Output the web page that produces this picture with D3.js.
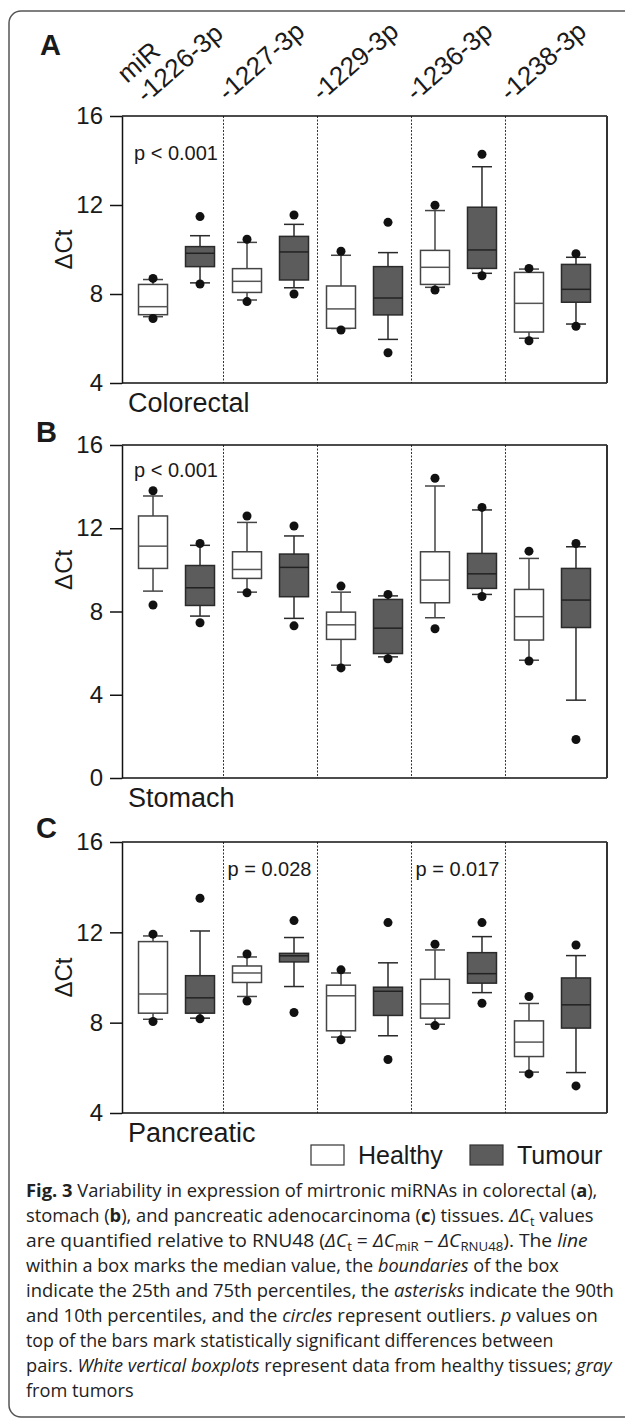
<!DOCTYPE html>
<html>
<head>
<meta charset="utf-8">
<script src="https://cdn.jsdelivr.net/npm/d3@7"></script>
<style>
  body { margin: 0; background: #fff; }
  svg text { font-family: "Liberation Sans", Arial, sans-serif; fill: #1a1a1a; }
  .caption text { font-family: "Open Sans", sans-serif; fill: #222; }
</style>
</head>
<body>
<svg id="fig" width="625" height="1420"></svg>
<script>
// miRNA labels, one pair (healthy, tumour) per miRNA
var mirnaLabels = ["-1226-3p", "-1227-3p", "-1229-3p", "-1236-3p", "-1238-3p"];
var tissueTypes = ["Healthy", "Tumour"];

// box stats per box: [lower whisker, q1, median, q3, upper whisker], order H,T,H,T...
var colorectalStats = [
	[6.98, 7.07, 7.43, 8.43, 8.65], [8.5, 9.23, 9.83, 10.13, 10.62],
	[7.73, 8.07, 8.57, 9.14, 10.32], [8.28, 8.63, 9.89, 10.59, 11.13],
	[6.45, 6.46, 7.33, 8.36, 9.74], [5.96, 7.06, 7.82, 9.23, 9.86],
	[8.3, 8.43, 9.2, 9.96, 11.75], [8.93, 9.15, 9.98, 11.9, 13.72],
	[6.01, 6.29, 7.58, 8.97, 9.12], [6.65, 7.63, 8.21, 9.33, 9.65]
];
var colorectalDots = [
	[8.7, 6.9], [11.48, 8.45], [10.46, 7.66], [11.55, 8.0], [9.92, 6.38],
	[11.22, 5.36], [11.99, 8.18], [14.28, 8.82], [9.15, 5.9], [9.81, 6.55]
];

var stomachStats = [
	[8.98, 10.07, 11.14, 12.59, 13.55], [7.78, 8.29, 9.14, 10.21, 11.18],
	[8.93, 9.59, 10.02, 10.87, 12.28], [7.67, 8.71, 10.12, 10.76, 11.63],
	[5.42, 6.66, 7.36, 7.97, 8.93], [5.82, 5.98, 7.2, 8.58, 8.75],
	[7.7, 8.42, 9.51, 10.87, 14.03], [8.82, 9.11, 9.81, 10.79, 12.88],
	[5.66, 6.63, 7.75, 9.06, 10.55], [3.74, 7.23, 8.55, 10.07, 11.11]
];
var stomachDots = [
	[13.8, 8.31], [11.27, 7.46], [12.59, 8.9], [12.11, 7.31], [9.22, 5.29],
	[8.82, 5.73], [14.4, 7.17], [13.0, 8.72], [10.9, 5.62], [11.27, 1.85]
];

var pancreaticStats = [
	[8.15, 8.42, 9.27, 11.59, 11.84], [8.2, 8.42, 9.1, 10.08, 12.06],
	[9.16, 9.78, 10.2, 10.51, 10.91], [9.6, 10.69, 10.96, 11.07, 11.77],
	[7.36, 7.64, 9.19, 9.66, 10.2], [7.42, 8.32, 9.39, 9.57, 10.65],
	[7.93, 8.2, 8.83, 9.92, 11.22], [9.33, 9.75, 10.17, 11.1, 11.81],
	[5.81, 6.5, 7.14, 8.08, 8.85], [5.79, 7.76, 8.79, 9.98, 10.97]
];
var pancreaticDots = [
	[11.92, 8.05], [13.51, 8.17], [11.04, 8.96], [12.52, 8.45], [10.34, 7.24],
	[12.43, 6.37], [11.47, 7.87], [12.43, 8.86], [9.16, 5.73], [11.44, 5.2]
];

// p values: [miRNA index, text]
var colorectalP = [[0, "p < 0.001"]];
var stomachP = [[0, "p < 0.001"]];
var pancreaticP = [[1, "p = 0.028"], [3, "p = 0.017"]];

var yTicksA = [4, 8, 12, 16];
var yTicksB = [0, 4, 8, 12, 16];

var svg = d3.select("#fig");

// outer frame
svg.append("rect")
	.attr("x", 9).attr("y", 11)
	.attr("width", 640).attr("height", 1406)
	.attr("rx", 12)
	.attr("fill", "none")
	.attr("stroke", "#555")
	.attr("stroke-width", 1.5);

var boxKeys = [];
mirnaLabels.forEach(function(m) {
	tissueTypes.forEach(function(t) { boxKeys.push(m + "|" + t); });
});

var left = 122, right = 607;
var x = d3.scalePoint().domain(boxKeys).range([left, right]).padding(0.66);
var boxW = 29, capW = 20;

var fillColor = { "Healthy": "#fff", "Tumour": "#5c5c5c" };
var strokeColor = { "Healthy": "#444", "Tumour": "#2a2a2a" };

function dividerX(i) {
	return (x(boxKeys[2 * i - 1]) + x(boxKeys[2 * i])) / 2;
}

function drawPanel(opt) {
	var y = d3.scaleLinear().domain(opt.domain).range([opt.bottom, opt.top]);
	var g = svg.append("g").attr("class", "panel");

	// dotted dividers between miRNA pairs
	for (var i = 1; i < mirnaLabels.length; i++) {
		g.append("line")
			.attr("x1", dividerX(i)).attr("x2", dividerX(i))
			.attr("y1", opt.top).attr("y2", opt.bottom)
			.attr("stroke", "#333")
			.attr("stroke-width", 1)
			.attr("stroke-dasharray", "2,1.5");
	}

	// frame lines
	g.append("line").attr("x1", left).attr("x2", right).attr("y1", opt.top).attr("y2", opt.top)
		.attr("stroke", "#111").attr("stroke-width", 1.5);
	g.append("line").attr("x1", left).attr("x2", right).attr("y1", opt.bottom).attr("y2", opt.bottom)
		.attr("stroke", "#111").attr("stroke-width", 1.5);
	g.append("line").attr("x1", right).attr("x2", right).attr("y1", opt.top).attr("y2", opt.bottom)
		.attr("stroke", "#333").attr("stroke-width", 2);

	var axis = d3.axisLeft(y).tickValues(opt.ticks).tickSize(12).tickSizeOuter(0).tickPadding(7);
	var ax = g.append("g").attr("transform", "translate(" + left + ",0)").call(axis);
	ax.select(".domain").attr("stroke", "#111").attr("stroke-width", 1.5);
	ax.selectAll(".tick line").attr("stroke", "#111").attr("stroke-width", 1.5);
	ax.selectAll(".tick text")
		.attr("font-size", 24)
		.attr("font-family", "Liberation Sans, Arial, sans-serif")
		.attr("fill", "#1a1a1a");

	// boxes
	boxKeys.forEach(function(k, i) {
		var s = opt.stats[i];
		var type = k.split("|")[1];
		var cx = x(k);
		var bg = g.append("g");
		bg.append("line")
			.attr("x1", cx).attr("x2", cx).attr("y1", y(s[0])).attr("y2", y(s[4]))
			.attr("stroke", strokeColor[type]).attr("stroke-width", 1.5);
		[s[0], s[4]].forEach(function(v) {
			bg.append("line")
				.attr("x1", cx - capW / 2).attr("x2", cx + capW / 2)
				.attr("y1", y(v)).attr("y2", y(v))
				.attr("stroke", strokeColor[type]).attr("stroke-width", 1.5);
		});
		bg.append("rect")
			.attr("x", cx - boxW / 2).attr("y", y(s[3]))
			.attr("width", boxW).attr("height", y(s[1]) - y(s[3]))
			.attr("fill", fillColor[type])
			.attr("stroke", strokeColor[type]).attr("stroke-width", 1.5);
		bg.append("line")
			.attr("x1", cx - boxW / 2).attr("x2", cx + boxW / 2)
			.attr("y1", y(s[2])).attr("y2", y(s[2]))
			.attr("stroke", type == "Tumour" ? "#222" : "#555").attr("stroke-width", 1.5);
		opt.dots[i].forEach(function(v) {
			bg.append("circle")
				.attr("cx", cx).attr("cy", y(v)).attr("r", 4.5)
				.attr("fill", "#111");
		});
	});

	// p values
	opt.pvals.forEach(function(p) {
		var xs = p[0] == 0 ? left + 12 : dividerX(p[0]) + 4;
		g.append("text")
			.attr("x", xs).attr("y", opt.pY)
			.attr("font-size", 20)
			.text(p[1]);
	});

	// y label
	g.append("text")
		.attr("transform", "translate(72," + y(10) + ") rotate(-90)")
		.attr("text-anchor", "middle")
		.attr("font-size", 24)
		.text("\u0394Ct");

	// panel letter and tissue name
	g.append("text")
		.attr("x", opt.letterX).attr("y", opt.letterY)
		.attr("font-size", 29).attr("font-weight", "bold")
		.text(opt.letter);
	g.append("text")
		.attr("x", 128).attr("y", opt.bottom + 29)
		.attr("font-size", 27)
		.text(opt.name);
}

drawPanel({ domain: [4, 16], ticks: yTicksA, top: 116, bottom: 383, stats: colorectalStats,
	dots: colorectalDots, pvals: colorectalP, pY: 160, letter: "A", letterX: 40, letterY: 55, name: "Colorectal" });
drawPanel({ domain: [0, 16], ticks: yTicksB, top: 445, bottom: 778, stats: stomachStats,
	dots: stomachDots, pvals: stomachP, pY: 477, letter: "B", letterX: 36, letterY: 442, name: "Stomach" });
drawPanel({ domain: [4, 16], ticks: yTicksA, top: 842, bottom: 1113, stats: pancreaticStats,
	dots: pancreaticDots, pvals: pancreaticP, pY: 876, letter: "C", letterX: 36, letterY: 838, name: "Pancreatic" });

// rotated miRNA column labels
var labelG = svg.append("g");
mirnaLabels.forEach(function(m, i) {
	var lx, ly;
	if (i == 0) {
		lx = 146; ly = 104;
		labelG.append("text")
			.attr("transform", "translate(127,84) rotate(-41)")
			.attr("font-size", 26)
			.text("miR");
	} else {
		lx = dividerX(i) + 4;
		ly = 102;
	}
	labelG.append("text")
		.attr("transform", "translate(" + lx + "," + ly + ") rotate(-41)")
		.attr("font-size", 26)
		.text(m);
});

// legend
var legend = svg.append("g");
var legendX = [311, 470];
tissueTypes.forEach(function(t, i) {
	legend.append("rect")
		.attr("x", legendX[i]).attr("y", 1145)
		.attr("width", 33).attr("height", 20)
		.attr("fill", fillColor[t])
		.attr("stroke", "#333").attr("stroke-width", 1.2);
	legend.append("text")
		.attr("x", legendX[i] + 47).attr("y", 1164)
		.attr("font-size", 25)
		.text(t);
});

// caption: each line is a list of [text, style]
var captionLines = [
	[["Fig. 3", "b"], [" Variability in expression of mirtronic miRNAs in colorectal (", ""], ["a", "b"], ["),", ""]],
	[["stomach (", ""], ["b", "b"], ["), and pancreatic adenocarcinoma (", ""], ["c", "b"], [") tissues. ", ""], ["\u0394C", "i"], ["t", "sub"], [" values", ""]],
	[["are quantified relative to RNU48 (", ""], ["\u0394C", "i"], ["t", "sub"], [" = ", ""], ["\u0394C", "i"], ["miR", "sub"], [" \u2013 ", ""], ["\u0394C", "i"], ["RNU48", "sub"], ["). The ", ""], ["line", "i"]],
	[["within a box marks the median value, the ", ""], ["boundaries", "i"], [" of the box", ""]],
	[["indicate the 25th and 75th percentiles, the ", ""], ["asterisks", "i"], [" indicate the 90th", ""]],
	[["and 10th percentiles, and the ", ""], ["circles", "i"], [" represent outliers. ", ""], ["p", "i"], [" values on", ""]],
	[["top of the bars mark statistically significant differences between", ""]],
	[["pairs. ", ""], ["White vertical boxplots", "i"], [" represent data from healthy tissues; ", ""], ["gray", "i"]],
	[["from tumors", ""]]
];
var captionWidths = [572, 568, 562, 533, 588, 572, 528, 586, 0];

var cap = svg.append("g").attr("class", "caption");
captionLines.forEach(function(line, i) {
	var t = cap.append("text")
		.attr("x", 0).attr("y", 0)
		.attr("font-size", 17.5);
	line.forEach(function(seg, j) {
		var ts = t.append("tspan").text(seg[0]);
		var prev = j > 0 ? line[j - 1][1] : "";
		if (seg[1] == "b") ts.attr("font-weight", "bold");
		if (seg[1] == "i") ts.attr("font-style", "italic");
		if (seg[1] == "sub") ts.attr("font-size", 12).attr("dy", 4);
		else if (prev == "sub") ts.attr("dy", -4);
	});
	var sx = 1.04;
	if (captionWidths[i] > 0) {
		sx = captionWidths[i] / t.node().getComputedTextLength();
	}
	t.attr("transform", "translate(26," + (1197 + i * 25) + ") scale(" + sx + ",1)");
});
</script>
</body>
</html>
